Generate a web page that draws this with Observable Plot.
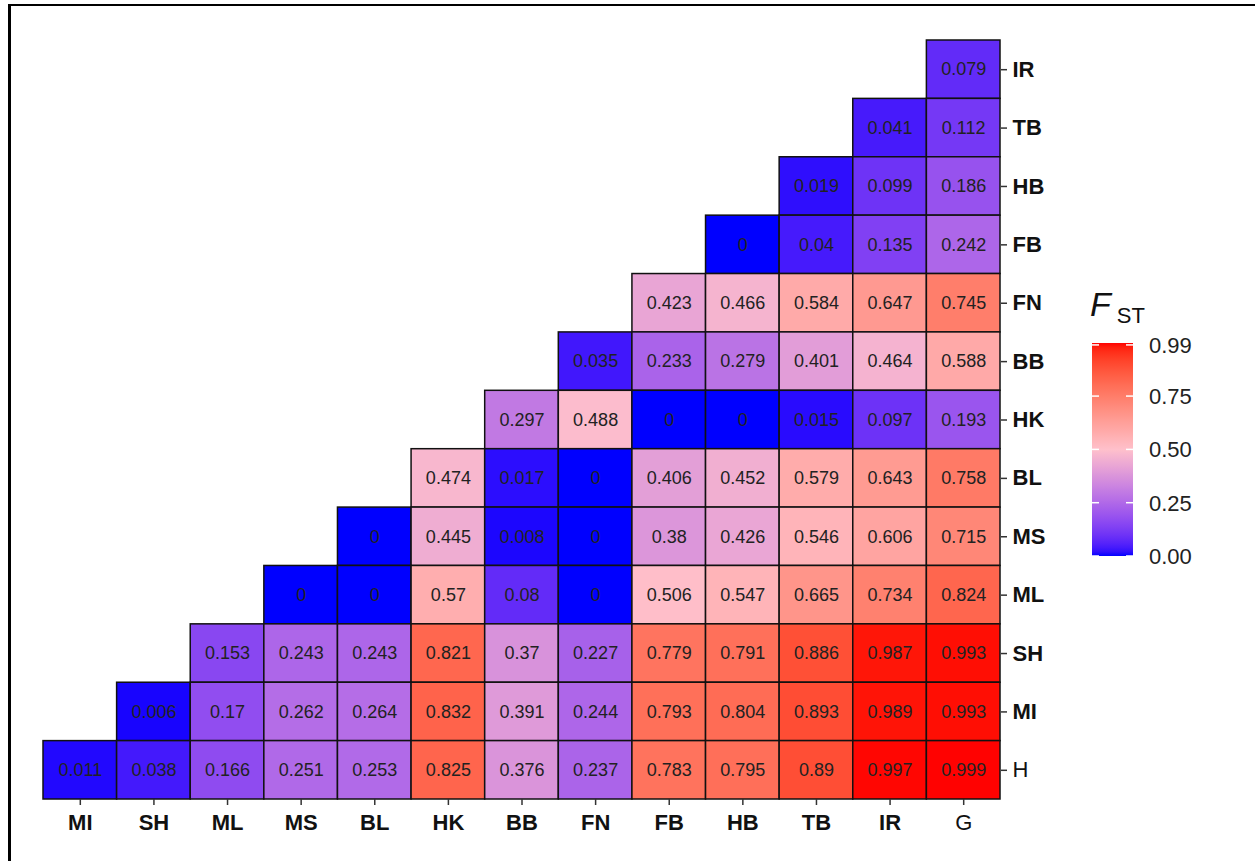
<!DOCTYPE html>
<html>
<head>
<meta charset="utf-8">
<script src="https://cdn.jsdelivr.net/npm/d3@7"></script>
<script src="https://cdn.jsdelivr.net/npm/@observablehq/plot@0.6"></script>
<style>
  html, body { margin: 0; padding: 0; background: #fff; }
  #page { position: relative; width: 1255px; height: 861px; overflow: hidden; font-family: "Liberation Sans", Arial, sans-serif; }
  #frame { position: absolute; left: 8px; top: 4px; width: 1300px; height: 900px; border-left: 3px solid #000; border-top: 2px solid #000; }
  #chart { position: absolute; left: 0; top: 0; }
  #legend { position: absolute; left: 0; top: 0; }
</style>
</head>
<body>
<div id="page">
  <div id="frame"></div>
  <div id="chart"></div>
  <svg id="legend" width="1255" height="861"></svg>
</div>
<script>
// Column categories (x axis, left to right)
const xCats = ["MI", "SH", "ML", "MS", "BL", "HK", "BB", "FN", "FB", "HB", "TB", "IR", "G"];
// Row categories (y axis, top to bottom)
const yCats = ["IR", "TB", "HB", "FB", "FN", "BB", "HK", "BL", "MS", "ML", "SH", "MI", "H"];

// Row values, aligned to the right-most columns of xCats
const rowIR = [0.079];
const rowTB = [0.041, 0.112];
const rowHB = [0.019, 0.099, 0.186];
const rowFB = [0, 0.04, 0.135, 0.242];
const rowFN = [0.423, 0.466, 0.584, 0.647, 0.745];
const rowBB = [0.035, 0.233, 0.279, 0.401, 0.464, 0.588];
const rowHK = [0.297, 0.488, 0, 0, 0.015, 0.097, 0.193];
const rowBL = [0.474, 0.017, 0, 0.406, 0.452, 0.579, 0.643, 0.758];
const rowMS = [0, 0.445, 0.008, 0, 0.38, 0.426, 0.546, 0.606, 0.715];
const rowML = [0, 0, 0.57, 0.08, 0, 0.506, 0.547, 0.665, 0.734, 0.824];
const rowSH = [0.153, 0.243, 0.243, 0.821, 0.37, 0.227, 0.779, 0.791, 0.886, 0.987, 0.993];
const rowMI = [0.006, 0.17, 0.262, 0.264, 0.832, 0.391, 0.244, 0.793, 0.804, 0.893, 0.989, 0.993];
const rowH  = [0.011, 0.038, 0.166, 0.251, 0.253, 0.825, 0.376, 0.237, 0.783, 0.795, 0.89, 0.997, 0.999];

const rows = [rowIR, rowTB, rowHB, rowFB, rowFN, rowBB, rowHK, rowBL, rowMS, rowML, rowSH, rowMI, rowH];

// Legend breaks
const legendTicks = [0, 0.25, 0.5, 0.75, 0.99];
const legendLabels = ["0.00", "0.25", "0.50", "0.75", "0.99"];

const data = [];
rows.forEach((vals, i) => {
  const cols = xCats.slice(xCats.length - vals.length);
  vals.forEach((v, j) => data.push({x: cols[j], y: yCats[i], v}));
});

const chart = Plot.plot({
  width: 1060,
  height: 861,
  marginLeft: 43,
  marginRight: 60,
  marginTop: 40,
  marginBottom: 62,
  style: {fontFamily: "'Liberation Sans', Arial, sans-serif", background: "transparent", color: "#1a1a1a"},
  x: {domain: xCats, padding: 0, round: false, label: null},
  y: {domain: yCats, padding: 0, round: false, label: null},
  color: {type: "linear", domain: [0, 0.5, 1], range: ["blue", "pink", "red"], interpolate: "lab"},
  marks: [
    Plot.cell(data, {x: "x", y: "y", fill: "v", stroke: "#111", strokeWidth: 1.5, inset: 0}),
    Plot.text(data, {x: "x", y: "y", text: d => String(d.v), fill: "#222", fontSize: 18}),
    Plot.axisX({anchor: "bottom", tickSize: 6, tickPadding: 9, fontSize: 22, label: null}),
    Plot.axisY({anchor: "right", tickSize: 6, tickPadding: 6, fontSize: 22, label: null})
  ]
});
document.getElementById("chart").appendChild(chart);

// Style axis labels: bold except H and G
const svg = d3.select(chart);
svg.selectAll("g[aria-label='x-axis tick label'] text, g[aria-label='y-axis tick label'] text")
  .attr("font-weight", function() { const t = d3.select(this).text(); return (t === "H" || t === "G") ? "normal" : "bold"; })
  .attr("fill", "#111");
svg.selectAll("g[aria-label='x-axis tick'] path, g[aria-label='y-axis tick'] path")
  .attr("stroke", "#333").attr("stroke-width", 1.5);

// Legend (colorbar)
const colorScale = chart.scale("color");
const lg = d3.select("#legend");
const barX = 1092, barW = 41;
const ly = d3.scaleLinear().domain([0, 0.999]).range([556, 343]);
const defs = lg.append("defs");
const grad = defs.append("linearGradient").attr("id", "fstgrad")
  .attr("x1", 0).attr("y1", 1).attr("x2", 0).attr("y2", 0);
d3.range(0, 1.0001, 0.02).forEach(t => {
  grad.append("stop").attr("offset", t).attr("stop-color", colorScale.apply(t * 0.999));
});
lg.append("rect").attr("x", barX).attr("y", ly(0.999)).attr("width", barW)
  .attr("height", ly(0) - ly(0.999)).attr("fill", "url(#fstgrad)");
legendTicks.forEach((t, i) => {
  const yy = ly(t);
  lg.append("line").attr("x1", barX).attr("x2", barX + 7).attr("y1", yy).attr("y2", yy)
    .attr("stroke", "#fff").attr("stroke-width", 1.5);
  lg.append("line").attr("x1", barX + barW - 7).attr("x2", barX + barW).attr("y1", yy).attr("y2", yy)
    .attr("stroke", "#fff").attr("stroke-width", 1.5);
  lg.append("text").attr("x", 1149).attr("y", yy + 2).attr("dominant-baseline", "middle")
    .attr("font-family", "'Liberation Sans', Arial, sans-serif").attr("font-size", 22)
    .attr("fill", "#222").text(legendLabels[i]);
});
const title = lg.append("text").attr("x", 1090).attr("y", 316)
  .attr("font-family", "'Liberation Sans', Arial, sans-serif").attr("fill", "#111");
title.append("tspan").attr("font-size", 34).attr("font-style", "italic").text("F");
title.append("tspan").attr("font-size", 22).attr("dx", 6).attr("dy", 7).text("ST");
</script>
</body>
</html>
